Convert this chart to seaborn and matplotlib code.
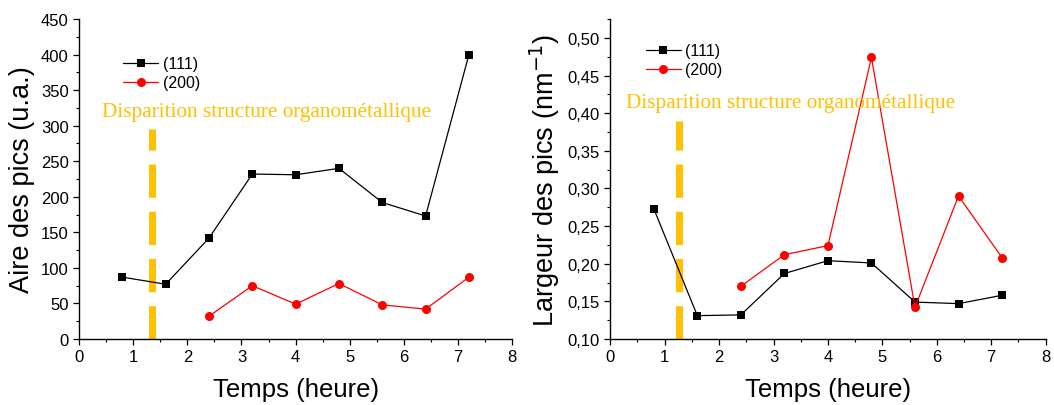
import matplotlib
matplotlib.use("Agg")
import matplotlib.pyplot as plt
import pandas as pd
import seaborn as sns
from matplotlib.ticker import MultipleLocator, FuncFormatter

# Data
temps_111 = [0.8, 1.6, 2.4, 3.2, 4.0, 4.8, 5.6, 6.4, 7.2]
temps_200 = [2.4, 3.2, 4.0, 4.8, 5.6, 6.4, 7.2]

aire_111 = [87, 77, 142, 232, 231, 240, 192, 173, 400]
aire_200 = [32, 75, 49, 78, 48, 42, 87]

largeur_111 = [0.273, 0.131, 0.132, 0.187, 0.204, 0.201, 0.149, 0.147, 0.158]
largeur_200 = [0.170, 0.212, 0.224, 0.474, 0.142, 0.290, 0.208]

# vertical marker "Disparition structure organometallique"
disp_x = [1.35, 1.27]
disp_top = [295, 0.389]
disp_text = "Disparition structure organométallique"
disp_color = "#FFC000"

sns.set_style("ticks")
plt.rcParams['font.family'] = ['Liberation Sans', 'DejaVu Sans']
plt.rcParams['text.color'] = 'black'
plt.rcParams['axes.labelcolor'] = 'black'
plt.rcParams['xtick.color'] = 'black'
plt.rcParams['ytick.color'] = 'black'

fig = plt.figure(figsize=(10.54, 4.06), dpi=100)
ax1 = fig.add_axes([0.075, 0.1626, 0.411, 0.788])
ax2 = fig.add_axes([0.579, 0.1626, 0.413, 0.788])


def draw_panel(ax, y111, y200, ylab, leg_anchor):
    df1 = pd.DataFrame({"t": temps_111, "v": y111})
    df2 = pd.DataFrame({"t": temps_200, "v": y200})
    sns.lineplot(data=df1, x="t", y="v", ax=ax, color="black", marker="s",
                 markersize=6, markeredgewidth=0, linewidth=0.9, label="(111)")
    sns.lineplot(data=df2, x="t", y="v", ax=ax, color="red", marker="o",
                 markersize=6.5, markeredgewidth=0, linewidth=0.9, label="(200)")
    ax.set_xlim(0, 8)
    ax.xaxis.set_major_locator(MultipleLocator(1))
    ax.xaxis.set_minor_locator(MultipleLocator(0.5))
    ax.set_xlabel("Temps (heure)", fontsize=18.5, labelpad=9)
    ax.set_ylabel(ylab, fontsize=19.5, labelpad=4)
    ax.tick_params(which="major", labelsize=12, length=4, width=0.9, direction="out", color="black")
    ax.tick_params(which="minor", length=2.5, width=0.8, direction="out", color="black")
    for s in ["left", "bottom"]:
        ax.spines[s].set_color("black")
        ax.spines[s].set_linewidth(1.0)
    sns.despine(ax=ax)
    ax.legend(loc="upper left", bbox_to_anchor=leg_anchor, frameon=False,
              fontsize=11.5, handlelength=2.2, handletextpad=0.3, labelspacing=0.25)


draw_panel(ax1, aire_111, aire_200, "Aire des pics (u.a.)", (0.069, 0.928))
ax1.set_ylim(0, 450)
ax1.yaxis.set_major_locator(MultipleLocator(50))
ax1.yaxis.set_minor_locator(MultipleLocator(25))
ax1.plot([disp_x[0], disp_x[0]], [0, disp_top[0]], color=disp_color, lw=5,
         dashes=(4.8, 2.0), zorder=1)
ax1.text(0.43, 320, disp_text, color=disp_color, fontsize=15.3,
         family="Liberation Serif", va="center", ha="left")

draw_panel(ax2, largeur_111, largeur_200, "Largeur des pics (nm$^{-1}$)", (0.048, 0.969))
ax2.set_ylim(0.10, 0.525)
ax2.yaxis.set_major_locator(MultipleLocator(0.05))
ax2.yaxis.set_minor_locator(MultipleLocator(0.025))
ax2.yaxis.set_major_formatter(FuncFormatter(lambda v, p: f"{v:.2f}".replace(".", ",")))
ax2.plot([disp_x[1], disp_x[1]], [0.10, disp_top[1]], color=disp_color, lw=5,
         dashes=(4.8, 2.0), zorder=1)
ax2.text(0.29, 0.414, disp_text, color=disp_color, fontsize=15.3,
         family="Liberation Serif", va="center", ha="left")

fig.savefig("out.png", dpi=100)
